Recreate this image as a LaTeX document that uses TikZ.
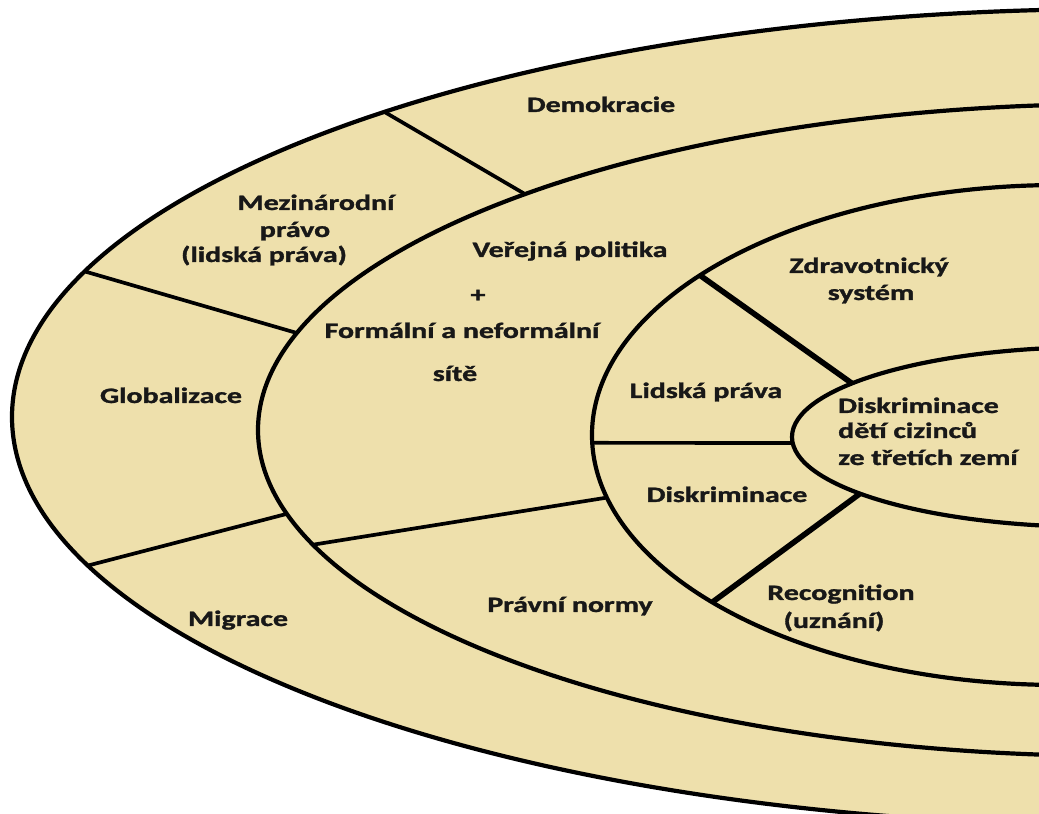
\documentclass[tikz,border=0pt]{standalone}
\usepackage{fontspec}
\usepackage{graphicx}
\newfontfamily\carl{Carlito}[BoldFeatures={FakeBold=1.2}]
\usetikzlibrary{calc}
\definecolor{beige}{RGB}{238,224,172}
\definecolor{txtc}{RGB}{24,24,24}
\newcommand{\wide}[1]{\scalebox{1.36}[1]{#1}}
\tikzset{
  ring/.style={draw=black, line width=4.2bp},
  divider/.style={draw=black, line width=3.7bp},
  boldline/.style={draw=black, line width=5.6bp},
  lbl/.style={font=\carl\bfseries\fontsize{22bp}{26bp}\selectfont, text=txtc, inner sep=0pt, anchor=base},
  lblw/.style={lbl, anchor=base west}
}
\begin{document}
\begin{tikzpicture}[x=1bp,y=1bp]
\useasboundingbox (0,0) rectangle (1039,814);
\clip (0,0) rectangle (1039,814);
% centres (Y = 814 - image y)
\coordinate (c1) at (1120,397);
\coordinate (c2) at (1120,384);
\coordinate (c3) at (1060,379);
\coordinate (c4) at (1097,377);
\fill[beige] (c1) ellipse [x radius=1108, y radius=408];
\draw[ring] (c1) ellipse [x radius=1108, y radius=408];
\draw[ring] (c2) ellipse [x radius=862, y radius=326];
\draw[ring] (c3) ellipse [x radius=468, y radius=250];
\draw[ring] (c4) ellipse [x radius=305, y radius=90];
% divider end points
\coordinate (d1a) at ($(c1)+({1108*cos(131.6)},{408*sin(131.6)})$);
\coordinate (d1b) at ($(c2)+({862*cos(133.65)},{326*sin(133.65)})$);
\coordinate (d2a) at ($(c1)+({1108*cos(159.1)},{408*sin(159.1)})$);
\coordinate (d2b) at ($(c2)+({862*cos(162.7)},{326*sin(162.7)})$);
\coordinate (d3a) at ($(c1)+({1108*cos(201.35)},{408*sin(201.35)})$);
\coordinate (d3b) at ($(c2)+({862*cos(194.9)},{326*sin(194.9)})$);
\coordinate (d4a) at ($(c2)+({862*cos(200.6)},{326*sin(200.6)})$);
\coordinate (d4b) at ($(c3)+({468*cos(194.5)},{250*sin(194.5)})$);
\coordinate (d5a) at ($(c3)+({468*cos(140.3)},{250*sin(140.3)})$);
\coordinate (d5b) at ($(c4)+({305*cos(143.45)},{90*sin(143.45)})$);
\coordinate (d6a) at ($(c3)+({468*cos(181.8)},{250*sin(181.8)})$);
\coordinate (d6b) at ($(c4)+({305*cos(183.8)},{90*sin(183.8)})$);
\coordinate (d7a) at ($(c4)+({305*cos(219.0)},{90*sin(219.0)})$);
\coordinate (d7b) at ($(c3)+({468*cos(222.0)},{250*sin(222.0)})$);
\draw[divider] (d1a) -- (d1b);
\draw[divider] (d2a) -- (d2b);
\draw[divider] (d3a) -- (d3b);
\draw[divider] (d4a) -- (d4b);
\draw[boldline] (d5a) -- (d5b);
\draw[divider] (d6a) -- (d6b);
\draw[boldline] (d7a) -- (d7b);
% labels (baselines)
\node[lbl] (demo) at (601,{814-112}) {\wide{Demokracie}};
\node[lbl] (mez1) at (316,{814-210}) {\wide{Mezinárodní}};
\node[lbl] (mez2) at (295,{814-237}) {\wide{právo}};
\node[lbl] (mez3) at (264,{814-262}) {\wide{(lidská práva)}};
\node[lbl] (glob) at (171,{814-403}) {\wide{Globalizace}};
\node[lbl] (migr) at (238,{814-626}) {\wide{Migrace}};
\node[lbl] (vp) at (570,{814-257}) {\wide{Veřejná politika}};
\node[lbl] (plus) at (478,{814-302}) {\wide{+}};
\node[lbl] (form) at (462,{814-338}) {\wide{Formální a neformální}};
\node[lbl] (site) at (455,{814-381}) {\wide{sítě}};
\node[lbl] (prav) at (570,{814-612}) {\wide{Právní normy}};
\node[lbl] (zdr1) at (869,{814-273}) {\wide{Zdravotnický}};
\node[lbl] (zdr2) at (871,{814-300}) {\wide{systém}};
\node[lbl] (lid) at (706,{814-398}) {\wide{Lidská práva}};
\node[lbl] (disk) at (727,{814-502}) {\wide{Diskriminace}};
\node[lbl] (rec1) at (841,{814-600}) {\wide{Recognition}};
\node[lbl] (rec2) at (834,{814-628}) {\wide{(uznání)}};
\node[lblw] (in1) at (838,{814-413}) {\wide{Diskriminace}};
\node[lblw] (in2) at (838,{814-438}) {\wide{dětí cizinců}};
\node[lblw] (in3) at (838,{814-465}) {\wide{ze třetích zemí}};
\end{tikzpicture}
\end{document}
